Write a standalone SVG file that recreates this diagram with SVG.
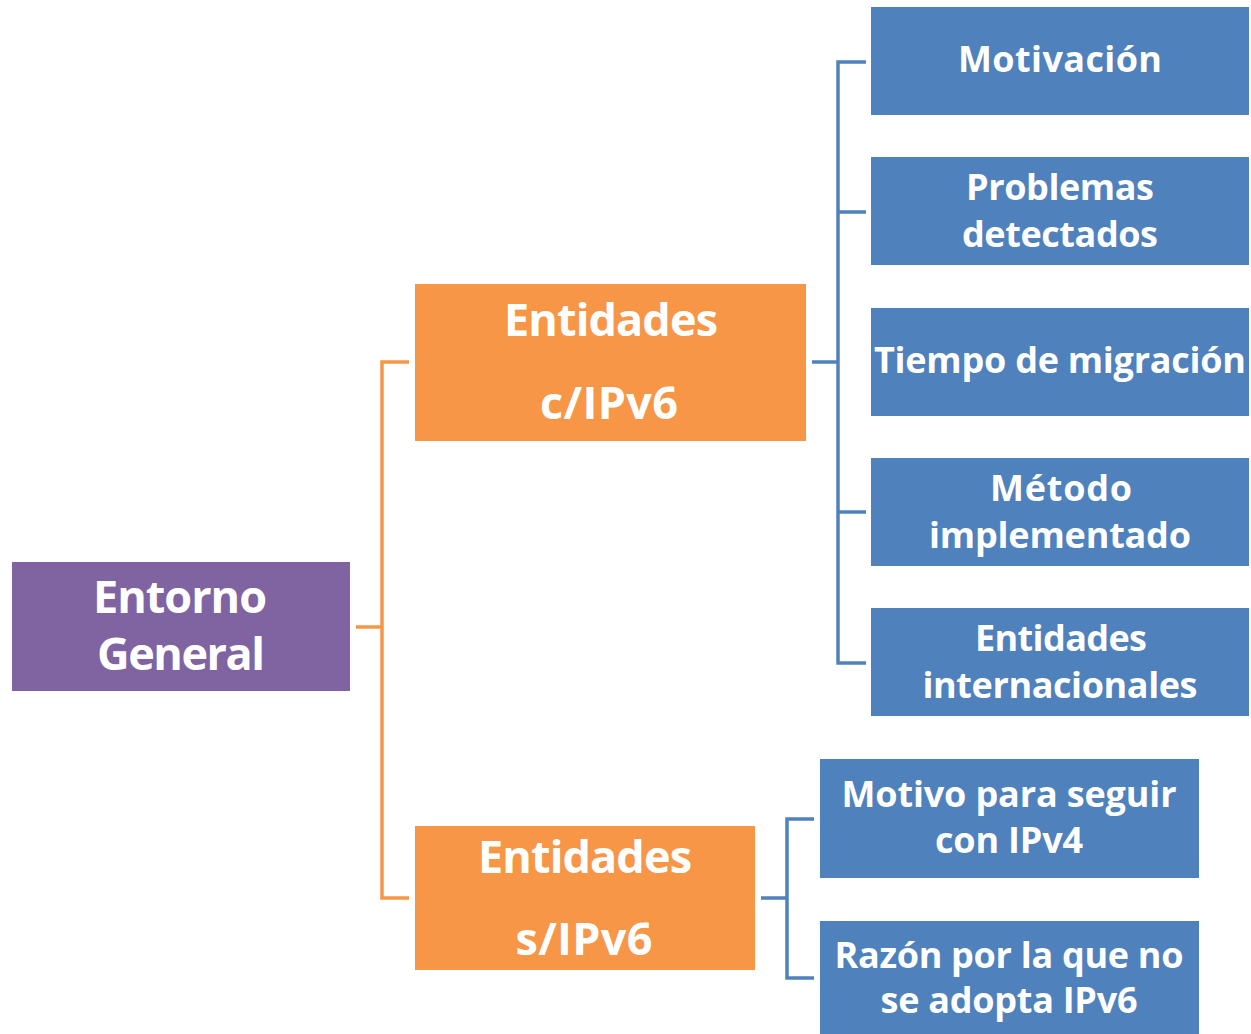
<svg xmlns="http://www.w3.org/2000/svg" width="1251" height="1034" viewBox="0 0 1251 1034">
<style>
text{font-family:"Open Sans","Noto Sans","Liberation Sans",sans-serif;font-weight:bold;fill:#fff;text-anchor:middle}
.b{fill:#4F81BD}.o{fill:#F79646}.p{fill:#8064A2}
.t1{font-size:36px}.t2{font-size:45px}
.cb{fill:none;stroke:#4F81BD;stroke-width:3.5}
.co{fill:none;stroke:#F79646;stroke-width:3.5}
</style>
<rect width="1251" height="1034" fill="#fff"/>
<g id="connectors">
<path class="co" d="M356 627H382M409 362H382V898H409"/>
<path class="cb" d="M812 362H838M866 62H838V663H866M838 212H866M838 512H866"/>
<path class="cb" d="M761 898H787M814 819H787V978H814"/>
</g>
<g id="entorno"><rect class="p" x="12" y="562" width="338" height="129"/><text class="t2" x="180" y="613" textLength="174">Entorno</text><text class="t2" x="181" y="670" textLength="168">General</text></g>
<g id="conipv6"><rect class="o" x="415" y="284" width="391" height="157"/><text class="t2" x="611" y="336" textLength="214">Entidades</text><text class="t2" x="609" y="419" textLength="138">c/IPv6</text></g>
<g id="sinipv6"><rect class="o" x="415" y="826" width="340" height="144"/><text class="t2" x="585" y="873" textLength="214">Entidades</text><text class="t2" x="584" y="955" textLength="137">s/IPv6</text></g>
<g id="motivacion"><rect class="b" x="871" y="7" width="378" height="108"/><text class="t1" x="1060" y="72" textLength="204">Motivación</text></g>
<g id="problemas"><rect class="b" x="871" y="157" width="378" height="108"/><text class="t1" x="1060" y="200" textLength="188">Problemas</text><text class="t1" x="1060" y="247" textLength="196">detectados</text></g>
<g id="tiempo"><rect class="b" x="871" y="308" width="378" height="108"/><text class="t1" x="1060" y="373" textLength="372">Tiempo de migración</text></g>
<g id="metodo"><rect class="b" x="871" y="458" width="378" height="108"/><text class="t1" x="1061" y="501" textLength="142">Método</text><text class="t1" x="1060" y="548" textLength="262">implementado</text></g>
<g id="internacionales"><rect class="b" x="871" y="608" width="378" height="108"/><text class="t1" x="1061" y="651" textLength="172">Entidades</text><text class="t1" x="1060" y="698" textLength="275">internacionales</text></g>
<g id="motivo"><rect class="b" x="820" y="759" width="379" height="119"/><text class="t1" x="1009" y="807" textLength="335">Motivo para seguir</text><text class="t1" x="1009" y="853" textLength="148">con IPv4</text></g>
<g id="razon"><rect class="b" x="820" y="921" width="379" height="113"/><text class="t1" x="1009" y="968" textLength="349">Razón por la que no</text><text class="t1" x="1009" y="1013" textLength="257">se adopta IPv6</text></g>
</svg>
